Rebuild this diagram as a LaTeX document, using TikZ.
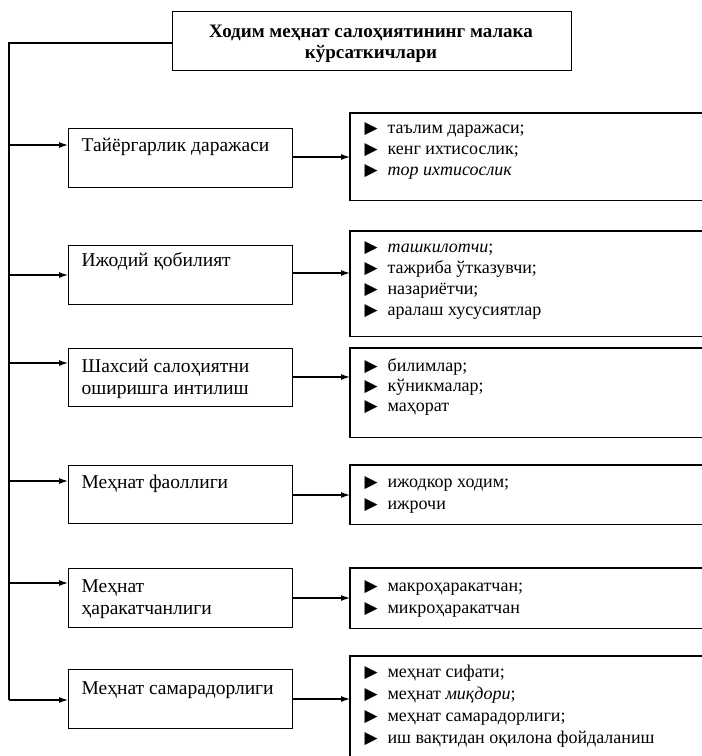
\documentclass[tikz,border=0pt]{standalone}
\usepackage{fontspec}
\setmainfont{Liberation Serif}
\newfontfamily\symfont{DejaVu Sans}
\usetikzlibrary{arrows.meta}
\newcommand{\blt}{\makebox[23pt][l]{\symfont\fontsize{17}{17}\selectfont ▶}}
\begin{document}
\begin{tikzpicture}[x=1pt,y=-1pt,line width=1.2pt,
  box/.style={draw,anchor=north west,inner sep=0pt},
  openbox/.style={anchor=north west,inner sep=0pt,minimum width=352pt},
  lbl/.style={anchor=base west,inner sep=0pt,font=\fontsize{19.5}{22}\selectfont},
  itm/.style={anchor=base west,inner sep=0pt,font=\fontsize{18}{21}\selectfont},
  ttl/.style={anchor=base,inner sep=0pt,font=\bfseries\fontsize{19}{21}\selectfont},
  arr/.style={-{Latex[length=9pt,width=6pt]}}]
\useasboundingbox (0,0) rectangle (702,756);

% title
\node[box,minimum width=399pt,minimum height=59pt] (title) at (172,11) {};
\node[ttl] (t1) at (371,37) {Ходим меҳнат салоҳиятининг малака};
\node[ttl] (t2) at (371,58) {кўрсаткичлари};

% left boxes
\node[box,minimum width=224pt,minimum height=59pt] (b1) at (68,128) {};
\node[box,minimum width=224pt,minimum height=59pt] (b2) at (68,245) {};
\node[box,minimum width=224pt,minimum height=58pt] (b3) at (68,348) {};
\node[box,minimum width=224pt,minimum height=58pt] (b4) at (68,465) {};
\node[box,minimum width=224pt,minimum height=59pt] (b5) at (68,568) {};
\node[box,minimum width=224pt,minimum height=59pt] (b6) at (68,669) {};

\node[lbl] (b1t) at (81,151.5) {Тайёргарлик даражаси};
\node[lbl] (b2t) at (81,266.5) {Ижодий қобилият};
\node[lbl] (b3t) at (81,372.5) {Шахсий салоҳиятни};
\node[lbl] (b3u) at (81,394.5) {оширишга интилиш};
\node[lbl] (b4t) at (81,488.5) {Меҳнат фаоллиги};
\node[lbl] (b5t) at (81,592.5) {Меҳнат};
\node[lbl] (b5u) at (81,614.5) {ҳаракатчанлиги};
\node[lbl] (b6t) at (81,694.5) {Меҳнат самарадорлиги};

% right boxes (open to the right edge)
\node[openbox,minimum height=86pt] (r1) at (350,113) {};
\node[openbox,minimum height=104pt] (r2) at (350,231) {};
\node[openbox,minimum height=88pt] (r3) at (350,348) {};
\node[openbox,minimum height=58pt] (r4) at (350,465) {};
\node[openbox,minimum height=59pt] (r5) at (350,568) {};
\node[openbox,minimum height=100pt] (r6) at (350,656) {};
\foreach \r in {r1,r2,r3,r4,r5}
  \draw (\r.north east) -- (\r.north west) -- (\r.south west) -- (\r.south east);
\draw (r6.north east) -- (r6.north west) -- (r6.south west);

\node[itm] (r1a) at (364,133.5) {\blt таълим даражаси;};
\node[itm] (r1b) at (364,154.5) {\blt кенг ихтисослик;};
\node[itm] (r1c) at (364,175.5) {\blt \textit{тор ихтисослик}};

\node[itm] (r2a) at (364,252.5) {\blt \textit{ташкилотчи};};
\node[itm] (r2b) at (364,273.5) {\blt тажриба ўтказувчи;};
\node[itm] (r2c) at (364,294.5) {\blt назариётчи;};
\node[itm] (r2d) at (364,315.5) {\blt аралаш хусусиятлар};

\node[itm] (r3a) at (364,371.5) {\blt билимлар;};
\node[itm] (r3b) at (364,391.5) {\blt кўникмалар;};
\node[itm] (r3c) at (364,411.5) {\blt маҳорат};

\node[itm] (r4a) at (364,487.5) {\blt ижодкор ходим;};
\node[itm] (r4b) at (364,509.5) {\blt ижрочи};

\node[itm] (r5a) at (364,591.5) {\blt макроҳаракатчан;};
\node[itm] (r5b) at (364,613.5) {\blt микроҳаракатчан};

\node[itm] (r6a) at (364,677.5) {\blt меҳнат сифати;};
\node[itm] (r6b) at (364,699.5) {\blt меҳнат \textit{миқдори};};
\node[itm] (r6c) at (364,721.5) {\blt меҳнат самарадорлиги;};
\node[itm] (r6d) at (364,743.5) {\blt иш вақтидан оқилона фойдаланиш};

% spine
\coordinate (s0) at (9,43);
\coordinate (s1) at (9,145);
\coordinate (s2) at (9,275);
\coordinate (s3) at (9,363);
\coordinate (s4) at (9,481);
\coordinate (s5) at (9,583);
\coordinate (s6) at (9,700);
\draw (title.west |- s0) -- (s0) -- (s6);
\foreach \i in {1,...,6}
  \draw[arr] (s\i) -- (b\i.west |- s\i);

% connectors to right boxes
\coordinate (c1) at (320,157);
\coordinate (c2) at (320,273);
\coordinate (c3) at (320,377);
\coordinate (c4) at (320,495);
\coordinate (c5) at (320,598);
\coordinate (c6) at (320,699);
\foreach \i in {1,...,6}
  \draw[arr] (b\i.east |- c\i) -- (r\i.west |- c\i);
\end{tikzpicture}
\end{document}
